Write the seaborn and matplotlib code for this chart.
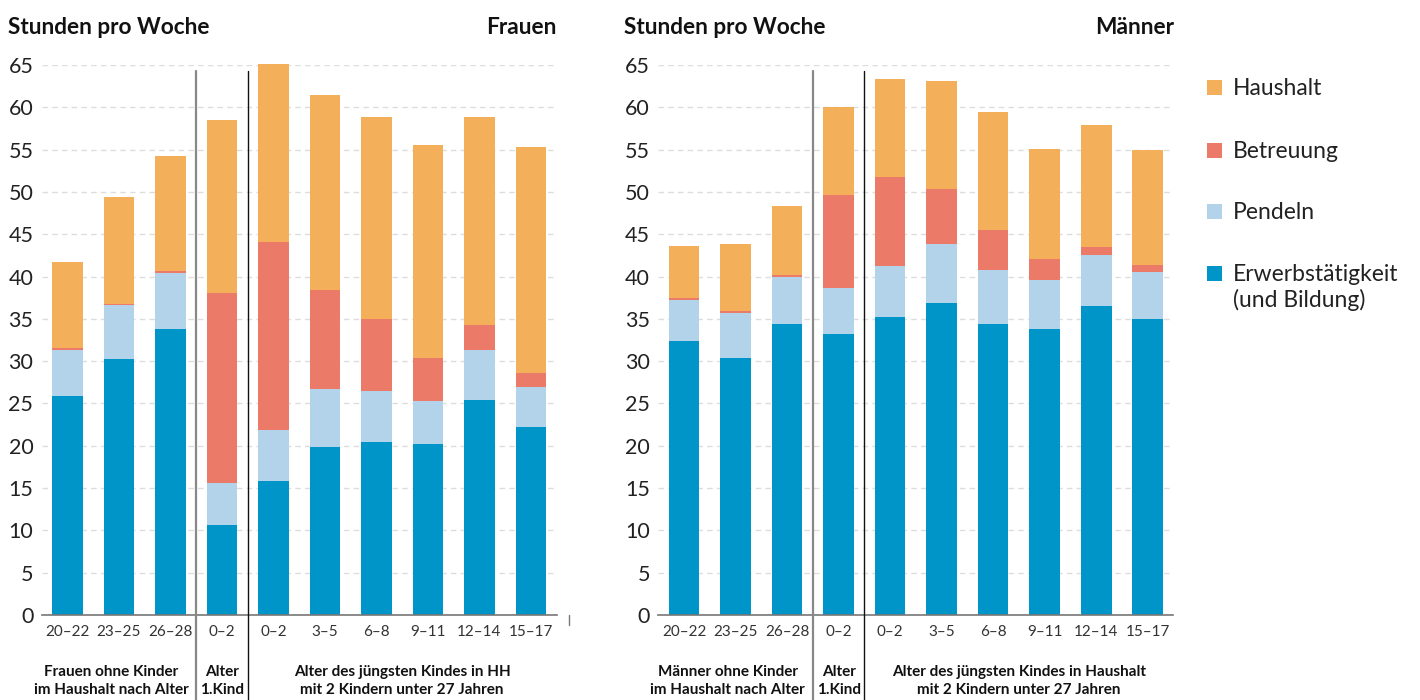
import matplotlib
matplotlib.use("Agg")
import matplotlib.pyplot as plt
import matplotlib.transforms as mtransforms
from matplotlib.patches import Rectangle
import pandas as pd
import seaborn as sns

# categories (x order) and their shown labels
keys = ["20-22", "23-25", "26-28", "k0-2", "0-2", "3-5", "6-8", "9-11", "12-14", "15-17"]
tick_labels = ["20–22", "23–25", "26–28", "0–2", "0–2", "3–5", "6–8", "9–11", "12–14", "15–17"]

# hours per week, women
f_erwerb = [25.9, 30.3, 33.8, 10.6, 15.8, 19.8, 20.4, 20.2, 25.4, 22.2]
f_pendeln = [5.4, 6.3, 6.6, 5.0, 6.1, 6.9, 6.1, 5.1, 5.9, 4.8]
f_betreuung = [0.3, 0.1, 0.2, 22.4, 22.2, 11.7, 8.5, 5.1, 3.0, 1.6]
f_haushalt = [10.1, 12.7, 13.6, 20.5, 21.0, 23.0, 23.8, 25.2, 24.5, 26.7]

# hours per week, men
m_erwerb = [32.4, 30.4, 34.4, 33.2, 35.2, 36.9, 34.4, 33.8, 36.5, 35.0]
m_pendeln = [4.8, 5.3, 5.5, 5.5, 6.0, 6.9, 6.4, 5.8, 6.1, 5.5]
m_betreuung = [0.3, 0.2, 0.3, 10.9, 10.6, 6.5, 4.7, 2.5, 0.9, 0.9]
m_haushalt = [6.1, 8.0, 8.1, 10.4, 11.5, 12.8, 14.0, 13.0, 14.4, 13.6]

series = ["Erwerbstätigkeit\n(und Bildung)", "Pendeln", "Betreuung", "Haushalt"]
colors = {"Haushalt": "#F4AF5A", "Betreuung": "#EC7A68",
          "Pendeln": "#B2D3EA", "Erwerbstätigkeit\n(und Bildung)": "#0095C9"}

groups_f = ["Frauen ohne Kinder\nim Haushalt nach Alter", "Alter\n1.Kind",
            "Alter des jüngsten Kindes in HH\nmit 2 Kindern unter 27 Jahren"]
groups_m = ["Männer ohne Kinder\nim Haushalt nach Alter", "Alter\n1.Kind",
            "Alter des jüngsten Kindes in Haushalt\nmit 2 Kindern unter 27 Jahren"]

sns.set_style("white")
plt.rcParams["font.family"] = ["Lato", "DejaVu Sans"]

W, H = 1420, 700
fig = plt.figure(figsize=(W / 100, H / 100), dpi=100)
ax_f = fig.add_axes([41.7 / W, 85 / H, 515 / W, 550 / H])
ax_m = fig.add_axes([658.3 / W, 85 / H, 515 / W, 550 / H])


def draw_panel(ax, parts, groups, title_right, title_x, extra_tick):
    df = pd.DataFrame(dict(zip(series, parts)))
    df["key"] = keys
    cum = df[series].cumsum(axis=1)
    # draw cumulative totals from top layer down so they overlap into a stack
    for s in reversed(series):
        sns.barplot(x=df["key"], y=cum[s], order=keys, color=colors[s],
                    width=0.6, saturation=1, ax=ax, zorder=2)
    for p in ax.patches:
        p.set_clip_on(False)
        p.set_linewidth(0)

    ax.set_xlim(-0.5, 9.5)
    ax.set_ylim(0, 65)
    ax.set_xlabel("")
    ax.set_ylabel("")
    for sp in ["top", "right", "left"]:
        ax.spines[sp].set_visible(False)
    ax.spines["bottom"].set_color("#777777")
    ax.spines["bottom"].set_linewidth(1.2)

    yt = list(range(0, 70, 5))
    ax.set_yticks(yt)
    ax.set_yticklabels([str(v) for v in yt], fontsize=15.5, color="#222222")
    ax.tick_params(axis="y", length=0, pad=6)
    for v in yt[1:]:
        ax.axhline(v, color="#dddddd", lw=1, dashes=(4, 3), zorder=0)

    ax.set_xticks([i - 0.5 for i in range(10)])
    ax.set_xticklabels([])
    ax.set_xticks(range(10), minor=True)
    ax.set_xticklabels(tick_labels, minor=True, fontsize=11, color="#333333")
    ax.tick_params(axis="x", which="major", length=7, width=1, color="#777777")
    ax.tick_params(axis="x", which="minor", length=0, pad=7)

    trans = mtransforms.blended_transform_factory(ax.transData, ax.transAxes)
    if extra_tick:
        ax.plot([9.74, 9.74], [0, -0.018], transform=trans, clip_on=False,
                color="#777777", lw=1)

    # separators between the groups
    ax.plot([2.5, 2.5], [-0.155, 0.99], transform=trans, clip_on=False,
            color="#888888", lw=1.6, zorder=3)
    ax.plot([3.5, 3.5], [-0.155, 0.99], transform=trans, clip_on=False,
            color="#111111", lw=1.0, zorder=3)

    # group captions
    for gx, txt in zip([0.85, 3.0, 6.5], groups):
        ax.text(gx, -0.12, txt, transform=trans, ha="center", va="center",
                fontsize=11, fontweight="bold", color="#111111", linespacing=1.35)

    x0 = ax.get_position().x0
    fig.text(x0 - 34 / W, 1 - 27 / H, "Stunden pro Woche", fontsize=16.3,
             fontweight="bold", va="center", ha="left", color="#111111")
    fig.text(title_x / W, 1 - 27 / H, title_right, fontsize=16.3,
             fontweight="bold", va="center", ha="right", color="#111111")


draw_panel(ax_f, [f_erwerb, f_pendeln, f_betreuung, f_haushalt], groups_f,
           "Frauen", 556, True)
draw_panel(ax_m, [m_erwerb, m_pendeln, m_betreuung, m_haushalt], groups_m,
           "Männer", 1174, False)

# legend
leg_y = {"Haushalt": 87, "Betreuung": 150, "Pendeln": 211,
         "Erwerbstätigkeit\n(und Bildung)": 273}
for s in ["Haushalt", "Betreuung", "Pendeln", "Erwerbstätigkeit\n(und Bildung)"]:
    yc = leg_y[s]
    fig.add_artist(Rectangle((1207 / W, 1 - (yc + 8) / H), 15 / W, 15 / H,
                             transform=fig.transFigure, color=colors[s], lw=0))
    fig.text(1233 / W, 1 - (yc - 9) / H, s, fontsize=16.5, va="top", ha="left",
             color="#222222", linespacing=1.2)

fig.savefig("out.png", dpi=100)
